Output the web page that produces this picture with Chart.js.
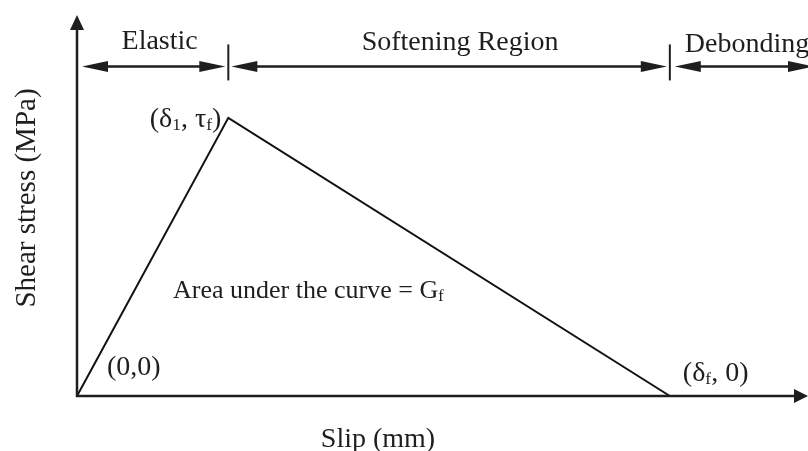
<!DOCTYPE html>
<html>
<head>
<meta charset="utf-8">
<script src="https://cdn.jsdelivr.net/npm/chart.js@4.4.1/dist/chart.umd.min.js"></script>
<style>
  html, body { margin: 0; padding: 0; background: #fff; }
  canvas { display: block; }
</style>
</head>
<body>
<canvas id="bondSlip" width="808" height="451"></canvas>
<script>
// bilinear bond-slip law, normalised units
const slip = [0, 0.207, 0.811];        // 0, δ1, δf
const stress = [0, 0.73, 0];           // 0, τf, 0
const slipMax = 1;
const stressMax = 1;
const regionNames = ['Elastic', 'Softening Region', 'Debonding'];
const dimLevel = 0.865;                // height of the region dimension arrows

const INK = '#1e1e1e';
const SERIF = '"Liberation Serif", "Times New Roman", serif';

function arrowHead(ctx, tx, ty, dx, dy, len, half) {
    const bx = tx - dx * len, by = ty - dy * len;
    ctx.beginPath();
    ctx.moveTo(tx, ty);
    ctx.lineTo(bx - dy * half, by + dx * half);
    ctx.lineTo(bx + dy * half, by - dx * half);
    ctx.closePath();
    ctx.fill();
}

function segment(ctx, x1, y1, x2, y2) {
    ctx.beginPath();
    ctx.moveTo(x1, y1);
    ctx.lineTo(x2, y2);
    ctx.stroke();
}

// draws text made of pieces, some of them subscripts
function richText(ctx, parts, x, y, size, align) {
    const widths = parts.map(p => {
        ctx.font = `${p.sub ? size * 0.62 : size}px ${SERIF}`;
        return ctx.measureText(p.t).width;
    });
    const total = widths.reduce((s, w) => s + w, 0);
    let cx = align === 'right' ? x - total : x;
    ctx.textAlign = 'left';
    ctx.textBaseline = 'alphabetic';
    parts.forEach((p, i) => {
        ctx.font = `${p.sub ? size * 0.62 : size}px ${SERIF}`;
        ctx.fillText(p.t, cx, p.sub ? y + 3 : y);
        cx += widths[i];
    });
}

const diagram = {
    id: 'diagram',
    afterDatasetsDraw(chart) {
        const { ctx, chartArea: a, scales: { x, y } } = chart;
        ctx.save();
        ctx.strokeStyle = INK;
        ctx.fillStyle = INK;

        // axes with arrow heads
        ctx.lineWidth = 2.5;
        segment(ctx, a.left, a.bottom + 1, a.left, a.top + 10);
        segment(ctx, a.left - 1, a.bottom, a.right - 10, a.bottom);
        arrowHead(ctx, a.left, a.top, 0, -1, 15, 7);
        arrowHead(ctx, a.right, a.bottom, 1, 0, 14, 7);

        // region dimension arrows
        const yd = y.getPixelForValue(dimLevel);
        const edges = [slip[0], slip[1], slip[2], slipMax].map(v => x.getPixelForValue(v));
        const spans = [
            [edges[0] + 5, edges[1] - 3],
            [edges[1] + 3, edges[2] - 3],
            [edges[2] + 5, edges[3] + 6]
        ];
        ctx.lineWidth = 2.4;
        spans.forEach(([l, r]) => {
            segment(ctx, l + 10, yd, r - 10, yd);
            arrowHead(ctx, l, yd, -1, 0, 26, 5.5);
            arrowHead(ctx, r, yd, 1, 0, 26, 5.5);
        });
        ctx.lineWidth = 2;
        [edges[1], edges[2]].forEach(e => segment(ctx, e, yd - 22, e, yd + 14));

        // region names
        ctx.font = `28px ${SERIF}`;
        ctx.textBaseline = 'alphabetic';
        ctx.textAlign = 'center';
        ctx.fillText(regionNames[0], (edges[0] + edges[1]) / 2 + 7, yd - 17);
        ctx.fillText(regionNames[1], (edges[1] + edges[2]) / 2 + 11, yd - 16);
        ctx.textAlign = 'left';
        ctx.fillText(regionNames[2], edges[2] + 15, yd - 14);

        // point labels
        const px = x.getPixelForValue(slip[1]), py = y.getPixelForValue(stress[1]);
        richText(ctx, [{ t: '(δ' }, { t: '1', sub: true }, { t: ', τ' }, { t: 'f', sub: true }, { t: ')' }],
            px - 7, py + 9, 28, 'right');
        const ox = x.getPixelForValue(0), oy = y.getPixelForValue(0);
        richText(ctx, [{ t: '(0,0)' }], ox + 30, oy - 21, 28, 'left');
        const fx = x.getPixelForValue(slip[2]);
        richText(ctx, [{ t: '(δ' }, { t: 'f', sub: true }, { t: ', 0)' }], fx + 13, oy - 15, 28, 'left');
        richText(ctx, [{ t: 'Area under the curve = G' }, { t: 'f', sub: true }], ox + 96, oy - 98, 26, 'left');

        // axis titles
        ctx.font = `28px ${SERIF}`;
        ctx.textAlign = 'center';
        ctx.fillText('Slip (mm)', 378, a.bottom + 51);
        ctx.save();
        ctx.translate(35, 198);
        ctx.rotate(-Math.PI / 2);
        ctx.font = `29px ${SERIF}`;
        ctx.textBaseline = 'alphabetic';
        ctx.fillText('Shear stress (MPa)', 0, 0);
        ctx.restore();

        ctx.restore();
    }
};

new Chart(document.getElementById('bondSlip'), {
    type: 'scatter',
    data: {
        datasets: [{
            data: slip.map((s, i) => ({ x: s, y: stress[i] })),
            showLine: true,
            borderColor: '#111',
            borderWidth: 2,
            borderJoinStyle: 'miter',
            pointRadius: 0,
            clip: false
        }]
    },
    options: {
        responsive: false,
        devicePixelRatio: 1,
        animation: false,
        events: [],
        layout: { padding: { left: 77, right: 0, top: 15, bottom: 55 } },
        scales: {
            x: { type: 'linear', min: 0, max: slipMax, display: false },
            y: { type: 'linear', min: 0, max: stressMax, display: false }
        },
        plugins: { legend: { display: false }, tooltip: { enabled: false } }
    },
    plugins: [diagram]
});
</script>
</body>
</html>
